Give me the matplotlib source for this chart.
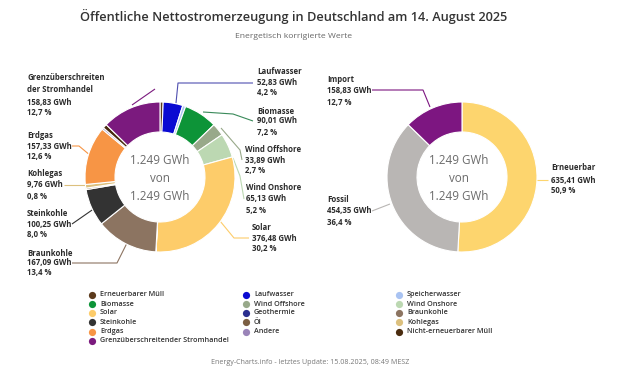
import matplotlib
matplotlib.use("Agg")
import matplotlib.pyplot as plt

plt.rcParams['font.family'] = ['Open Sans', 'DejaVu Sans']

# ---- data ----
categories = ["Erneuerbarer Müll", "Laufwasser", "Speicherwasser", "Biomasse",
              "Wind Offshore", "Wind Onshore", "Solar", "Geothermie",
              "Braunkohle", "Steinkohle", "Öl", "Kohlegas", "Erdgas",
              "Andere", "Nicht-erneuerbarer Müll",
              "Grenzüberschreitender Stromhandel"]
values_gwh = [8.5, 52.83, 8.0, 90.01, 33.89, 65.13, 376.48, 0.57,
              167.09, 100.25, 4.0, 9.76, 157.33, 4.9, 11.0, 158.83]
colors = ["#5c3a1c", "#0a0ad2", "#a9c3f2", "#0d9438", "#98a98a", "#bcd8b2",
          "#fdcc6a", "#2b2f8f", "#8c7461", "#333333", "#7b5f43", "#dcc07e",
          "#f79545", "#9a84b8", "#4a2c0f", "#7b1a7e"]

groups = ["Erneuerbar", "Fossil", "Import"]
group_values = [635.41, 454.35, 158.83]
group_colors = ["#fdd56e", "#b9b6b4", "#7d1681"]

total_text = "1.249 GWh"

left_labels = {
    "Grenzüberschreitender Stromhandel": ["Grenzüberschreiten", "der Stromhandel", "158,83 GWh", "12,7 %"],
    "Erdgas": ["Erdgas", "157,33 GWh", "12,6 %"],
    "Kohlegas": ["Kohlegas", "9,76 GWh", "0,8 %"],
    "Steinkohle": ["Steinkohle", "100,25 GWh", "8,0 %"],
    "Braunkohle": ["Braunkohle", "167,09 GWh", "13,4 %"],
    "Laufwasser": ["Laufwasser", "52,83 GWh", "4,2 %"],
    "Biomasse": ["Biomasse", "90,01 GWh", "7,2 %"],
    "Wind Offshore": ["Wind Offshore", "33,89 GWh", "2,7 %"],
    "Wind Onshore": ["Wind Onshore", "65,13 GWh", "5,2 %"],
    "Solar": ["Solar", "376,48 GWh", "30,2 %"],
}
right_labels = {
    "Import": ["Import", "158,83 GWh", "12,7 %"],
    "Erneuerbar": ["Erneuerbar", "635,41 GWh", "50,9 %"],
    "Fossil": ["Fossil", "454,35 GWh", "36,4 %"],
}

W, H = 618, 373
fig = plt.figure(figsize=(W / 100, H / 100), dpi=100)
fig.patch.set_facecolor("white")

ov = fig.add_axes([0, 0, 1, 1], zorder=0)
ov.set_xlim(0, W)
ov.set_ylim(H, 0)
ov.axis("off")

R = 75


def pie_axes(cx, cy):
    return fig.add_axes([(cx - R) / W, (H - cy - R) / H, 2 * R / W, 2 * R / H], zorder=1)


axL = pie_axes(160, 177)
axL.pie(values_gwh, colors=colors, startangle=90, counterclock=False,
        wedgeprops=dict(width=0.4, edgecolor="white", linewidth=0.8))
axL.set_xlim(-1, 1); axL.set_ylim(-1, 1); axL.set_aspect("auto")

axR = pie_axes(462, 177)
axR.pie(group_values, colors=group_colors, startangle=90, counterclock=False,
        wedgeprops=dict(width=0.4, edgecolor="white", linewidth=0.8))
axR.set_xlim(-1, 1); axR.set_ylim(-1, 1); axR.set_aspect("auto")

for cx in (160, 459):
    ov.text(cx, 160, total_text, ha="center", va="center", fontsize=8.4, color="#6b6b6b")
    ov.text(cx, 178, "von", ha="center", va="center", fontsize=8.4, color="#6b6b6b")
    ov.text(cx, 197, total_text, ha="center", va="center", fontsize=8.4, color="#6b6b6b")

LFS = 5.6
LCOL = "#2b2b2b"


def label(x, ys, lines):
    for y, t in zip(ys, lines):
        ov.text(x, y, t, ha="left", va="center", fontsize=LFS, color=LCOL, fontweight="bold")


def conn(xs, ys, c):
    ov.plot(xs, ys, color=c, lw=0.8, solid_capstyle="butt")


cidx = {c: i for i, c in enumerate(categories)}

label(27, [78, 90, 102, 113], left_labels["Grenzüberschreitender Stromhandel"])
conn([132, 155], [105, 89], colors[cidx["Grenzüberschreitender Stromhandel"]])
label(27, [135, 146, 157], left_labels["Erdgas"])
conn([72, 79, 91], [146, 146, 156], colors[cidx["Erdgas"]])
label(27, [173, 185, 196], left_labels["Kohlegas"])
conn([64, 89], [185, 185], colors[cidx["Kohlegas"]])
label(27, [214, 224, 234], left_labels["Steinkohle"])
conn([72, 95], [224, 208], colors[cidx["Steinkohle"]])
label(27, [253, 263, 273], left_labels["Braunkohle"])
conn([72, 117, 127], [263, 263, 243], colors[cidx["Braunkohle"]])

label(257, [72, 83, 93], left_labels["Laufwasser"])
conn([253, 178, 176], [83, 83, 103], "#5050b0")
label(257, [111, 121, 132], left_labels["Biomasse"])
conn([203, 233, 253], [112, 114, 121], "#3a8a5a")
label(245, [149, 160, 171], left_labels["Wind Offshore"])
conn([221, 240, 242], [128, 150, 160], colors[cidx["Wind Offshore"]])
label(246, [188, 199, 210], left_labels["Wind Onshore"])
conn([233, 240, 244], [158, 176, 199], colors[cidx["Wind Onshore"]])
label(252, [227, 238, 249], left_labels["Solar"])
conn([249, 234, 220], [238, 238, 221], colors[cidx["Solar"]])

label(327, [79, 90, 102], right_labels["Import"])
conn([372, 423, 430], [90, 90, 107], group_colors[2])
label(551, [168, 180, 191], right_labels["Erneuerbar"])
conn([535, 548], [180, 180], group_colors[0])
label(327, [200, 211, 222], right_labels["Fossil"])
conn([372, 390], [211, 204], group_colors[1])

ov.text(294, 17, "Öffentliche Nettostromerzeugung in Deutschland am 14. August 2025",
        ha="center", va="center", fontsize=9.2, color="#333333", fontweight="semibold")
ov.text(294, 36, "Energetisch korrigierte Werte", ha="center", va="center",
        fontsize=6.1, color="#666666")
ov.text(310, 362, "Energy-Charts.info - letztes Update: 15.08.2025, 08:49 MESZ",
        ha="center", va="center", fontsize=5.1, color="#777777")

col_x = [92, 246, 399]
row_y = [295, 304, 313, 322, 331.5, 340.5]
for i, (cat, col) in enumerate(zip(categories, colors)):
    r, c = divmod(i, 3)
    if i == len(categories) - 1:
        r, c = 5, 0
    ov.plot([col_x[c]], [row_y[r]], marker="o", ms=5.2, color=col, mec="none")
    ov.text(col_x[c] + 8, row_y[r], cat, ha="left", va="center", fontsize=5.2,
            color="#333333", fontweight="semibold")

fig.savefig("out.png", dpi=100, facecolor="white")
